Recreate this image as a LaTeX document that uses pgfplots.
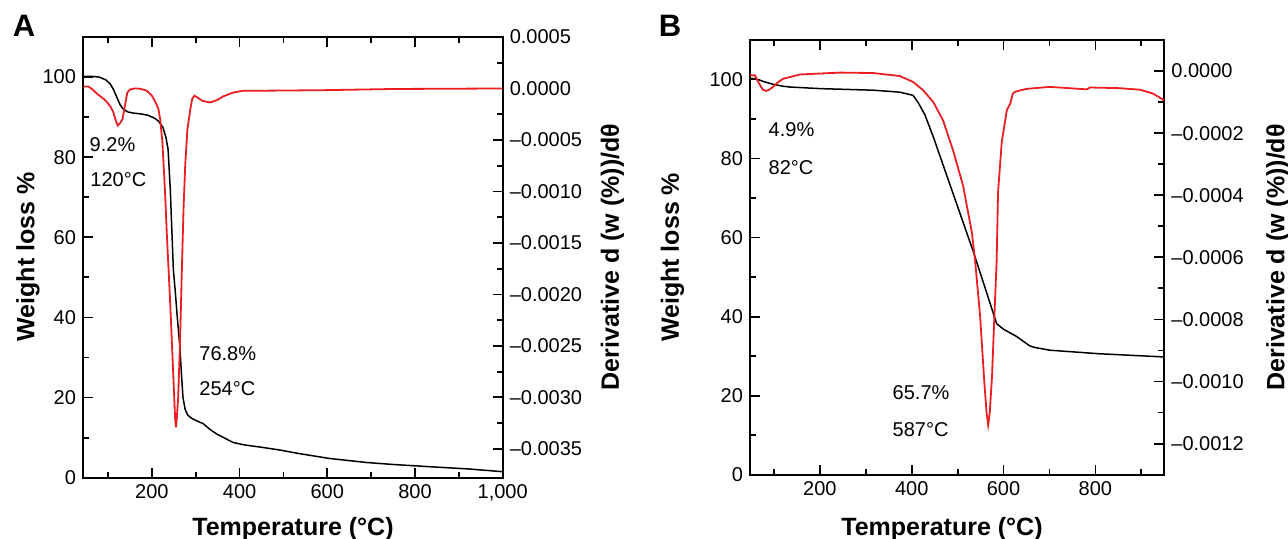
\documentclass[border=0pt]{standalone}
\usepackage{pgfplots}
\pgfplotsset{compat=1.18}
\usepackage{fontspec}
\setmainfont{Liberation Sans}
\definecolor{tgared}{RGB}{235,30,35}
\pgfplotsset{tga/.style={
  scale only axis,
  axis line style={line width=1pt},
  every tick/.style={black, line width=0.9pt},
  major tick length=5pt, minor tick length=3pt,
  tick align=inside,
  tick label style={font=\fontsize{10}{12}\selectfont},
  /pgf/number format/assume math mode=true,
  scaled y ticks=false,
}}
\begin{document}
\begin{tikzpicture}
\path[use as bounding box] (0,0) rectangle (644pt,-269.5pt);
% ---------------- Panel A ----------------
\begin{axis}[tga, at={(41.5pt,-18.5pt)}, anchor=north west,
  width=209.85pt, height=220.35pt,
  xmin=43, xmax=1000, ymin=0, ymax=110,
  xtick={200,400,600,800,1000}, xticklabels={200,400,600,800,{1,000}},
  minor xtick={100,300,500,700,900},
  xtick pos=both, xticklabel pos=lower,
  ytick={0,20,40,60,80,100}, minor ytick={10,30,50,70,90},
  ytick pos=left]
\addplot[black, line width=0.75pt] coordinates {
(44,100.2) (60,100.2) (80,100) (95,99.3) (105,98.3) (112,97) (120,95) (128,93)
(135,92) (145,91.3) (158,91) (175,90.8) (190,90.5) (205,89.8) (215,89) (225,87.5)
(232,85) (237,82) (242,72) (249,52) (253,47) (258,40) (264,32.5) (268,25) (271,20)
(276,17) (282,15.6) (290,14.9) (300,14.3) (317,13.5) (333,12) (348,10.9) (371,9.6)
(385,8.8) (410,8.2) (450,7.6) (492,6.9) (537,6.0) (605,4.8) (689,3.8) (750,3.3)
(840,2.7) (920,2.2) (1000,1.5)};
\end{axis}
\begin{axis}[tga, at={(41.5pt,-18.5pt)}, anchor=north west,
  width=209.85pt, height=220.35pt,
  xmin=43, xmax=1000, ymin=-0.00378, ymax=0.0005,
  axis x line=none, axis y line*=right,
  ytick={0.0005,0,-0.0005,-0.001,-0.0015,-0.002,-0.0025,-0.003,-0.0035},
  yticklabels={0.0005,0.0000,\textendash0.0005,\textendash0.0010,\textendash0.0015,\textendash0.0020,\textendash0.0025,\textendash0.0030,\textendash0.0035},
  minor ytick={0.00025,-0.00025,-0.00075,-0.00125,-0.00175,-0.00225,-0.00275,-0.00325}]
\addplot[tgared, line width=0.9pt] coordinates {
(44,0.00002) (55,0.00002) (65,-0.00001) (76,-0.000055) (90,-0.0001) (98,-0.000133)
(106,-0.00018) (112,-0.00023) (117,-0.0003) (122,-0.00036) (127,-0.00034) (133,-0.0003)
(138,-0.00018) (144,-0.00004) (150,-0.00001) (160,0.0) (169,0.0) (180,-0.00001)
(189,-0.000023) (200,-0.00007) (208,-0.00013) (215,-0.0002) (219,-0.0003) (224,-0.00052)
(230,-0.001) (234,-0.0014) (238,-0.00175) (242,-0.0021) (246,-0.0025) (250,-0.0029)
(253,-0.0032) (255,-0.00329) (257,-0.0032) (260,-0.003) (264,-0.0025) (268.7,-0.00172)
(272,-0.0012) (276,-0.00075) (281,-0.0004) (287,-0.00022) (292,-0.0001) (297,-0.00007)
(305,-0.00009) (315,-0.00012) (333,-0.000136) (350,-0.00011) (362,-0.000078)
(385,-0.00004) (407,-0.000023) (500,-0.00002) (600,-0.000016) (750,-0.000005) (1000,0.0)};
\end{axis}
% ---------------- Panel B ----------------
\begin{axis}[tga, at={(375pt,-20pt)}, anchor=north west,
  width=207.15pt, height=217.35pt,
  xmin=48, xmax=950, ymin=0, ymax=110,
  xtick={200,400,600,800}, minor xtick={100,300,500,700,900},
  xtick pos=both, xticklabel pos=lower,
  ytick={0,20,40,60,80,100}, minor ytick={10,30,50,70,90},
  ytick pos=left]
\addplot[black, line width=0.75pt] coordinates {
(48,100.2) (58,100.2) (65,100) (80,99.4) (98,98.8) (120,98.3) (135,98.1) (200,97.7)
(316,97.3) (374,96.8) (403,96) (415,94) (429,91) (447,85.5) (483,73.5) (510,64.5)
(534,56.5) (560,47.2) (585,38.2) (600,36.8) (628,35) (657,32.6) (668,32.2) (701,31.5)
(809,30.6) (949,29.8)};
\end{axis}
\begin{axis}[tga, at={(375pt,-20pt)}, anchor=north west,
  width=207.15pt, height=217.35pt,
  xmin=48, xmax=950, ymin=-0.0013, ymax=0.0001,
  axis x line=none, axis y line*=right,
  ytick={0,-0.0002,-0.0004,-0.0006,-0.0008,-0.001,-0.0012},
  yticklabels={0.0000,\textendash0.0002,\textendash0.0004,\textendash0.0006,\textendash0.0008,\textendash0.0010,\textendash0.0012},
  minor ytick={-0.0001,-0.0003,-0.0005,-0.0007,-0.0009,-0.0011}]
\addplot[tgared, line width=0.9pt] coordinates {
(48,-0.000014) (59,-0.000014) (64,-0.00003) (70,-0.000046) (76,-0.00006) (83,-0.000064)
(90,-0.00006) (98,-0.000051) (110,-0.000035) (120,-0.000025) (157,-0.000011)
(244,-0.000005) (316,-0.0000064) (374,-0.000016) (403,-0.000035) (425,-0.000062)
(447,-0.0001) (468,-0.000158) (490,-0.000255) (512,-0.00037) (531,-0.00052)
(538,-0.00061) (549,-0.00079) (558,-0.001) (563,-0.0011) (566.5,-0.00114) (570,-0.0011)
(575,-0.00098) (580,-0.00079) (585,-0.00061) (588,-0.00039) (596,-0.00023)
(607,-0.000126) (614.5,-0.000105) (620,-0.000073) (625,-0.000067) (642,-0.00006)
(653,-0.000057) (701,-0.000051) (781,-0.000059) (788,-0.000053) (850,-0.000055)
(897,-0.00006) (926,-0.000073) (949,-0.000094)};
\end{axis}
% ---------------- Labels ----------------
\begin{scope}[every node/.style={inner sep=0pt}]
\node[font=\bfseries\fontsize{15.5}{18}\selectfont] at (12pt,-13pt) {A};
\node[font=\bfseries\fontsize{15.5}{18}\selectfont] at (335pt,-13pt) {B};
\node[font=\bfseries\fontsize{12.5}{15}\selectfont, rotate=90] at (14pt,-128.5pt) {Weight loss \%};
\node[font=\bfseries\fontsize{12.5}{15}\selectfont, rotate=90] at (306.25pt,-128.5pt) {Derivative d (w (\%))/dθ};
\node[font=\bfseries\fontsize{12.5}{15}\selectfont, anchor=base] at (146.5pt,-267.5pt) {Temperature (°C)};
\node[font=\bfseries\fontsize{12.5}{15}\selectfont, rotate=90] at (336.25pt,-128.7pt) {Weight loss \%};
\node[font=\bfseries\fontsize{12.5}{15}\selectfont, rotate=90] at (639pt,-128.7pt) {Derivative d (w (\%))/dθ};
\node[font=\bfseries\fontsize{12.5}{15}\selectfont, anchor=base] at (471pt,-267.5pt) {Temperature (°C)};
\begin{scope}[every node/.append style={font=\fontsize{10}{12}\selectfont, anchor=west}]
\node at (44.65pt,-72.5pt) {9.2\%};
\node at (45pt,-89.75pt) {120°C};
\node at (99.5pt,-177pt) {76.8\%};
\node at (99.5pt,-194.5pt) {254°C};
\node at (384.15pt,-65pt) {4.9\%};
\node at (384.15pt,-83.75pt) {82°C};
\node at (446.15pt,-196.25pt) {65.7\%};
\node at (446.15pt,-215pt) {587°C};
\end{scope}
\end{scope}
\end{tikzpicture}
\end{document}
